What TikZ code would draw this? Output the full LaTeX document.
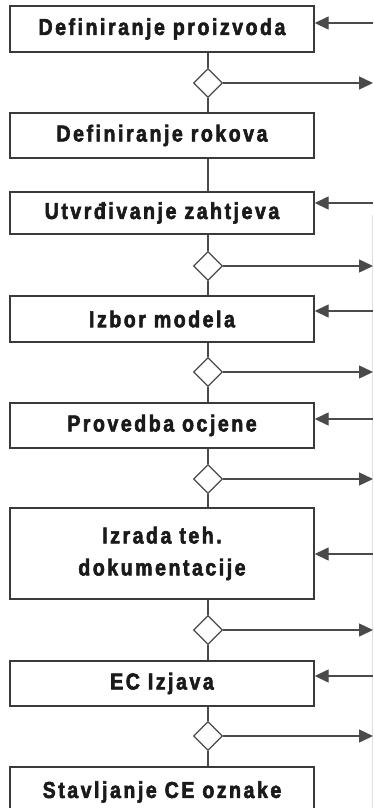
\documentclass[tikz,border=0pt]{standalone}
\usepackage{fontspec}
\setmainfont{Liberation Sans}[FakeStretch=0.85, LetterSpace=11, BoldFeatures={FakeBold=2.5}]
\usetikzlibrary{arrows.meta,shapes.geometric}
\definecolor{txt}{HTML}{1A1A1A}
\definecolor{edge}{HTML}{3A3A3A}
\definecolor{conn}{HTML}{4A4A4A}
\tikzset{
  box/.style={draw=edge, line width=1.4pt, fill=white, minimum width=304pt, inner sep=0pt,
    font=\fontsize{23}{32}\selectfont\bfseries, text=txt, align=center},
  dia/.style={draw=conn, line width=1.3pt, fill=white, diamond, inner sep=0pt,
    minimum width=29pt, minimum height=29pt},
  link/.style={draw=conn, line width=1.4pt},
  arr/.style={draw=conn, line width=1.4pt, -{Triangle[length=14pt,width=13pt]}}
}
\begin{document}
\begin{tikzpicture}[x=1pt,y=-1pt]
\useasboundingbox (0,0) rectangle (373,808);
\clip (0,0) rectangle (373,808);
\fill[white] (0,0) rectangle (373,808);
% faint right edge line
\draw[black!12, line width=0.8pt] (372,215) -- (372,808);
% boxes
\node[box, minimum height=46pt] (b1) at (162,29) {Definiranje proizvoda};
\node[box, minimum height=45pt] (b2) at (162,135.5) {Definiranje rokova};
\node[box, minimum height=42pt] (b3) at (162,213) {Utvrđivanje zahtjeva};
\node[box, minimum height=46pt] (b4) at (162,319) {Izbor modela};
\node[box, minimum height=45pt] (b5) at (162,425.5) {Provedba ocjene};
\node[box, minimum height=91pt] (b6) at (162,553.5) {Izrada teh.\\dokumentacije};
\node[box, minimum height=45pt] (b7) at (162,683.5) {EC Izjava};
\node[box, minimum height=50pt] (b8) at (162,792) {Stavljanje CE oznake};
% diamonds
\node[dia] (d1) at (208,83) {};
\node[dia] (d2) at (208,266) {};
\node[dia] (d3) at (208,372) {};
\node[dia] (d4) at (208,479) {};
\node[dia] (d5) at (208,630) {};
\node[dia] (d6) at (208,736) {};
% vertical links
\draw[link] (b1.south -| d1) -- (d1.north);
\draw[link] (d1.south) -- (b2.north -| d1);
\draw[link] (b2.south -| d1) -- (b3.north -| d1);
\draw[link] (b3.south -| d2) -- (d2.north);
\draw[link] (d2.south) -- (b4.north -| d2);
\draw[link] (b4.south -| d3) -- (d3.north);
\draw[link] (d3.south) -- (b5.north -| d3);
\draw[link] (b5.south -| d4) -- (d4.north);
\draw[link] (d4.south) -- (b6.north -| d4);
\draw[link] (b6.south -| d5) -- (d5.north);
\draw[link] (d5.south) -- (b7.north -| d5);
\draw[link] (b7.south -| d6) -- (d6.north);
\draw[link] (d6.south) -- (b8.north -| d6);
% outgoing arrows
\coordinate (o1) at (373,83);
\coordinate (o2) at (373,266);
\coordinate (o3) at (373,372);
\coordinate (o4) at (373,479);
\coordinate (o5) at (373,630);
\coordinate (o6) at (373,736);
\draw[arr] (d1.east) -- (o1);
\draw[arr] (d2.east) -- (o2);
\draw[arr] (d3.east) -- (o3);
\draw[arr] (d4.east) -- (o4);
\draw[arr] (d5.east) -- (o5);
\draw[arr] (d6.east) -- (o6);
% incoming arrows
\coordinate (i1) at (373,23);
\coordinate (i3) at (373,203);
\coordinate (i4) at (373,311);
\coordinate (i5) at (373,419);
\coordinate (i6) at (373,554);
\coordinate (i7) at (373,676);
\draw[arr] (i1) -- (b1.east |- i1);
\draw[arr] (i3) -- (b3.east |- i3);
\draw[arr] (i4) -- (b4.east |- i4);
\draw[arr] (i5) -- (b5.east |- i5);
\draw[arr] (i6) -- (b6.east |- i6);
\draw[arr] (i7) -- (b7.east |- i7);
\end{tikzpicture}
\end{document}
